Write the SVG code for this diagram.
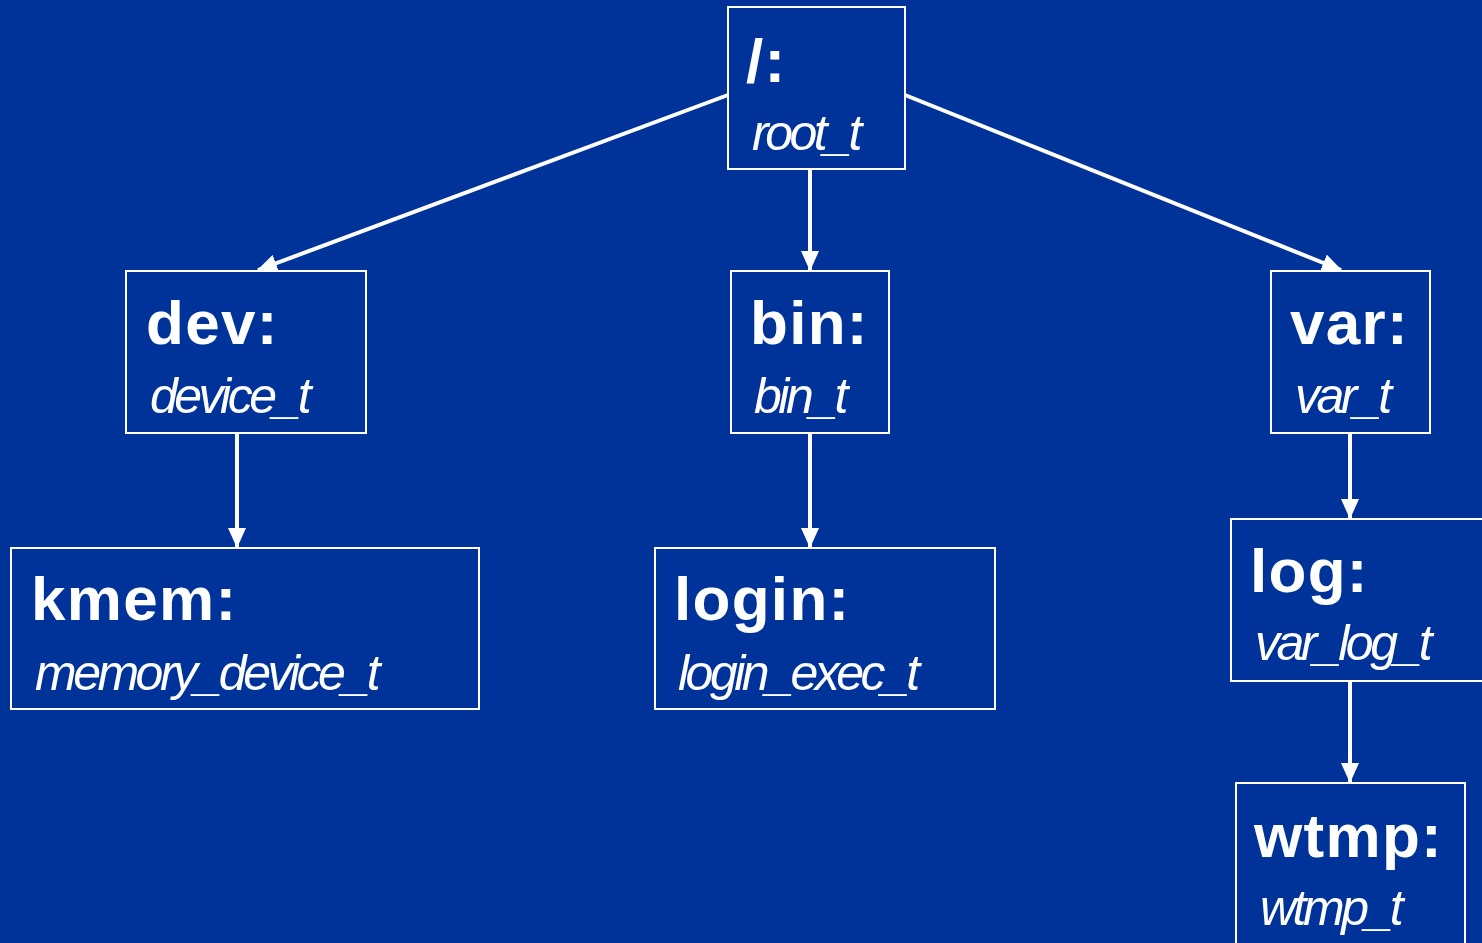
<svg xmlns="http://www.w3.org/2000/svg" width="1482" height="943" viewBox="0 0 1482 943">
<defs>
<style>
.box{fill:#003399;stroke:#ffffff;stroke-width:2}
.name{font-family:"Liberation Sans",Arial,sans-serif;font-weight:bold;font-size:62px;fill:#ffffff;letter-spacing:1.3px}
.type{font-family:"Liberation Sans",Arial,sans-serif;font-style:italic;font-size:50px;fill:#ffffff;letter-spacing:-3.5px}
.edge{stroke:#ffffff;stroke-width:4;fill:none}
</style>
<marker id="arr" markerUnits="userSpaceOnUse" markerWidth="20" markerHeight="18" refX="19" refY="9" orient="auto">
<path d="M0,0 L20,9 L0,18 Z" fill="#ffffff"/>
</marker>
</defs>
<rect width="1482" height="943" fill="#003399"/>
<g id="connectors">
<line class="edge" x1="728" y1="95" x2="258" y2="270" marker-end="url(#arr)"/>
<line class="edge" x1="810" y1="169" x2="810" y2="270" marker-end="url(#arr)"/>
<line class="edge" x1="905" y1="95" x2="1341" y2="270" marker-end="url(#arr)"/>
<line class="edge" x1="237" y1="433" x2="237" y2="547" marker-end="url(#arr)"/>
<line class="edge" x1="810" y1="433" x2="810" y2="547" marker-end="url(#arr)"/>
<line class="edge" x1="1350" y1="433" x2="1350" y2="518" marker-end="url(#arr)"/>
<line class="edge" x1="1350" y1="681" x2="1350" y2="782" marker-end="url(#arr)"/>
</g>
<g id="root">
<rect class="box" x="728" y="7" width="177" height="162"/>
<text class="name" x="746" y="82">/:</text>
<text class="type" x="752" y="150">root_t</text>
</g>
<g id="dev">
<rect class="box" x="126" y="271" width="240" height="162"/>
<text class="name" x="146" y="344">dev:</text>
<text class="type" x="150" y="413">device_t</text>
</g>
<g id="bin">
<rect class="box" x="731" y="271" width="158" height="162"/>
<text class="name" x="750" y="344">bin:</text>
<text class="type" x="754" y="413">bin_t</text>
</g>
<g id="var">
<rect class="box" x="1271" y="271" width="159" height="162"/>
<text class="name" x="1290" y="344">var:</text>
<text class="type" x="1295" y="413">var_t</text>
</g>
<g id="kmem">
<rect class="box" x="11" y="548" width="468" height="161"/>
<text class="name" x="31" y="620">kmem:</text>
<text class="type" x="35" y="690">memory_device_t</text>
</g>
<g id="login">
<rect class="box" x="655" y="548" width="340" height="161"/>
<text class="name" x="674" y="620">login:</text>
<text class="type" x="678" y="690">login_exec_t</text>
</g>
<g id="log">
<rect class="box" x="1231" y="519" width="262" height="162"/>
<text class="name" x="1250" y="592">log:</text>
<text class="type" x="1255" y="660">var_log_t</text>
</g>
<g id="wtmp">
<rect class="box" x="1236" y="783" width="229" height="170"/>
<text class="name" x="1254" y="857">wtmp:</text>
<text class="type" x="1260" y="925">wtmp_t</text>
</g>
</svg>
